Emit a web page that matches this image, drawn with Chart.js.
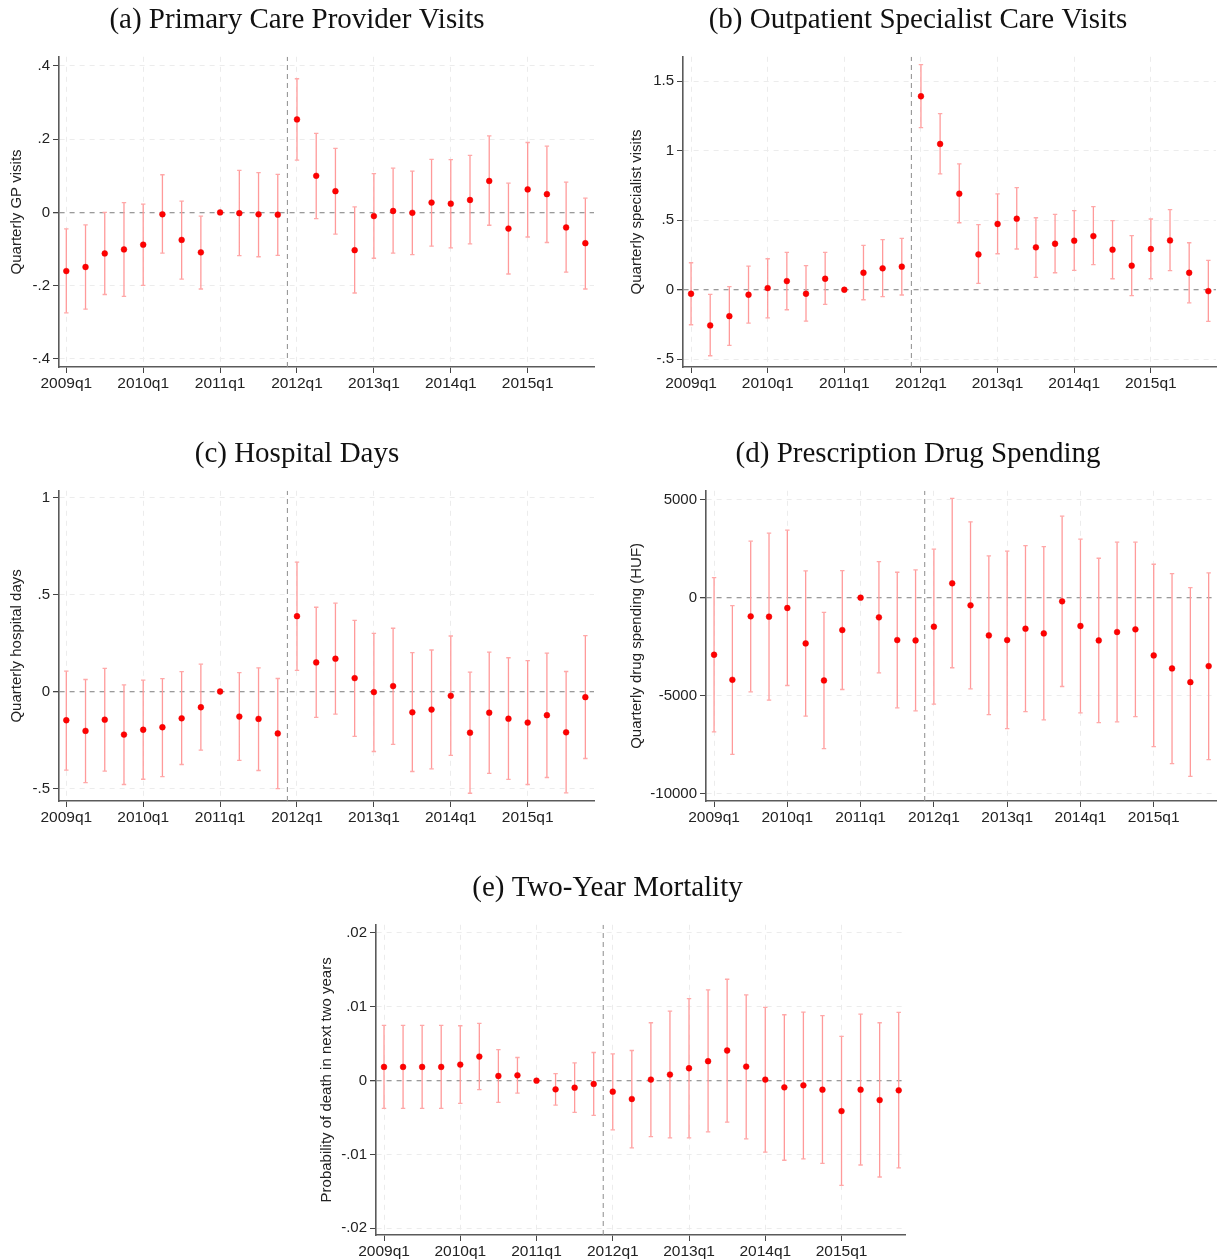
<!DOCTYPE html>
<html>
<head>
<meta charset="utf-8">
<script src="https://cdn.jsdelivr.net/npm/chart.js@4.4.0/dist/chart.umd.min.js"></script>
<style>
  body { margin: 0; background: #fff; width: 1225px; height: 1260px; position: relative; overflow: hidden; }
  .panel { position: absolute; }
</style>
</head>
<body>
<div class="panel" style="left:0px;top:0px;width:600px;height:400px"><canvas id="chartA"></canvas></div>
<div class="panel" style="left:620px;top:0px;width:605px;height:400px"><canvas id="chartB"></canvas></div>
<div class="panel" style="left:0px;top:434px;width:600px;height:400px"><canvas id="chartC"></canvas></div>
<div class="panel" style="left:620px;top:434px;width:605px;height:400px"><canvas id="chartD"></canvas></div>
<div class="panel" style="left:310px;top:868px;width:602px;height:400px"><canvas id="chartE"></canvas></div>
<script>
// quarters 2009q1 .. 2015q4, index 0..27
const quarters = [];
for (let y = 2009; y <= 2015; y++) for (let q = 1; q <= 4; q++) quarters.push(y + 'q' + q);
const xTickIdx = [0, 4, 8, 12, 16, 20, 24];
const reformAt = 11.5; // between 2011q4 and 2012q1

// (a) GP visits
const gpCoef = [-0.160, -0.149, -0.112, -0.101, -0.088, -0.005, -0.075, -0.109, 0, -0.002, -0.005, -0.006,
  0.254, 0.100, 0.058, -0.103, -0.010, 0.004, -0.001, 0.027, 0.024, 0.034, 0.086, -0.044, 0.063, 0.050, -0.041, -0.084];
const gpHi = [-0.045, -0.034, 0.000, 0.027, 0.023, 0.103, 0.031, -0.010, null, 0.115, 0.109, 0.104,
  0.365, 0.216, 0.175, 0.015, 0.106, 0.121, 0.113, 0.145, 0.144, 0.156, 0.209, 0.080, 0.191, 0.181, 0.083, 0.039];
const gpLo = [-0.274, -0.264, -0.224, -0.229, -0.199, -0.111, -0.182, -0.209, null, -0.118, -0.121, -0.117,
  0.143, -0.017, -0.059, -0.220, -0.125, -0.111, -0.115, -0.092, -0.097, -0.086, -0.035, -0.168, -0.067, -0.082, -0.163, -0.209];
const gpTicks = [-0.4, -0.2, 0, 0.2, 0.4];
const gpTickLabels = ['-.4', '-.2', '0', '.2', '.4'];

// (b) specialist visits
const specCoef = [-0.029, -0.257, -0.190, -0.036, 0.012, 0.062, -0.029, 0.079, 0, 0.122, 0.154, 0.166,
  1.392, 1.049, 0.691, 0.254, 0.473, 0.511, 0.305, 0.331, 0.353, 0.386, 0.288, 0.173, 0.293, 0.355, 0.122, -0.010];
const specHi = [0.194, -0.034, 0.022, 0.170, 0.223, 0.269, 0.173, 0.269, null, 0.319, 0.360, 0.370,
  1.620, 1.267, 0.905, 0.468, 0.689, 0.734, 0.518, 0.542, 0.569, 0.598, 0.497, 0.389, 0.509, 0.576, 0.338, 0.211];
const specLo = [-0.252, -0.475, -0.401, -0.240, -0.202, -0.144, -0.226, -0.106, null, -0.072, -0.050, -0.038,
  1.166, 0.833, 0.482, 0.046, 0.259, 0.293, 0.089, 0.122, 0.139, 0.180, 0.079, -0.043, 0.079, 0.137, -0.094, -0.228];
const specTicks = [-0.5, 0, 0.5, 1, 1.5];
const specTickLabels = ['-.5', '0', '.5', '1', '1.5'];

// (c) hospital days
const hospCoef = [-0.148, -0.203, -0.145, -0.222, -0.197, -0.184, -0.138, -0.081, 0, -0.129, -0.141, -0.216,
  0.388, 0.150, 0.169, 0.069, -0.003, 0.028, -0.107, -0.093, -0.022, -0.212, -0.109, -0.140, -0.160, -0.122, -0.210, -0.029];
const hospHi = [0.105, 0.062, 0.119, 0.034, 0.059, 0.066, 0.102, 0.141, null, 0.097, 0.122, 0.067,
  0.667, 0.434, 0.455, 0.367, 0.300, 0.326, 0.200, 0.214, 0.286, 0.100, 0.203, 0.174, 0.159, 0.198, 0.103, 0.288];
const hospLo = [-0.405, -0.469, -0.410, -0.479, -0.452, -0.438, -0.376, -0.302, null, -0.355, -0.407, -0.500,
  0.109, -0.133, -0.116, -0.231, -0.309, -0.272, -0.412, -0.398, -0.329, -0.524, -0.422, -0.453, -0.479, -0.443, -0.522, -0.345];
const hospTicks = [-0.5, 0, 0.5, 1];
const hospTickLabels = ['-.5', '0', '.5', '1'];

// (d) drug spending (HUF)
const drugCoef = [-2918, -4198, -956, -973, -529, -2338, -4232, -1655, 0, -1007, -2167, -2184,
  -1485, 734, -392, -1928, -2167, -1587, -1826, -188, -1450, -2184, -1757, -1621, -2952, -3617, -4317, -3498];
const drugHi = [1024, -410, 2884, 3293, 3447, 1365, -751, 1382, null, 1843, 1297, 1416,
  2474, 5067, 3873, 2133, 2372, 2662, 2611, 4163, 2986, 2014, 2833, 2833, 1706, 1229, 512, 1263];
const drugLo = [-6859, -8003, -4812, -5238, -4488, -6058, -7713, -4693, null, -3839, -5631, -5785,
  -5443, -3583, -4658, -5972, -6688, -5819, -6245, -4539, -5887, -6381, -6347, -6074, -7611, -8481, -9128, -8276];
const drugTicks = [-10000, -5000, 0, 5000];
const drugTickLabels = ['-10000', '-5000', '0', '5000'];

// (e) two-year mortality
const mortCoef = [0.00186, 0.00186, 0.00186, 0.00186, 0.00217, 0.00326, 0.00063, 0.00072, 0, -0.00118, -0.00095, -0.00045,
  -0.00149, -0.00249, 0.00014, 0.00082, 0.00168, 0.00263, 0.00408, 0.00190, 0.00014, -0.00091, -0.00063, -0.00122, -0.00412, -0.00122, -0.00263, -0.00131];
const mortHi = [0.00747, 0.00747, 0.00747, 0.00747, 0.00743, 0.00775, 0.00421, 0.00313, null, 0.00095, 0.00240, 0.00381,
  0.00362, 0.00408, 0.00784, 0.00942, 0.01110, 0.01228, 0.01373, 0.01160, 0.00992, 0.00892, 0.00929, 0.00879, 0.00598, 0.00901, 0.00784, 0.00924];
const mortLo = [-0.00376, -0.00376, -0.00376, -0.00376, -0.00308, -0.00122, -0.00294, -0.00168, null, -0.00331, -0.00430, -0.00471,
  -0.00666, -0.00911, -0.00757, -0.00775, -0.00775, -0.00693, -0.00562, -0.00788, -0.00969, -0.01078, -0.01060, -0.01119, -0.01418, -0.01142, -0.01305, -0.01182];
const mortTicks = [-0.02, -0.01, 0, 0.01, 0.02];
const mortTickLabels = ['-.02', '-.01', '0', '.01', '.02'];

const SANS = "'Liberation Sans', Arial, sans-serif";
const SERIF = "'Liberation Serif', 'Times New Roman', serif";

function errorBarPoints(lo, hi) {
  const pts = [];
  lo.forEach((l, i) => {
    if (l === null) return;
    pts.push({ x: i, y: l }, { x: i, y: hi[i] }, { x: i, y: null });
  });
  return pts;
}

function makePanel(id, p) {
  const ctx = document.getElementById(id).getContext('2d');
  new Chart(ctx, {
    type: 'scatter',
    data: {
      datasets: [
        {
          data: p.coef.map((v, i) => ({ x: i, y: v })),
          backgroundColor: '#ff0000',
          borderColor: '#e60000',
          borderWidth: 0.5,
          pointRadius: 2.9,
          order: 1
        },
        {
          type: 'line',
          data: errorBarPoints(p.lo, p.hi),
          borderColor: '#ff9a9a',
          borderWidth: 1.3,
          pointStyle: 'line',
          pointRadius: 2.2,
          pointBorderColor: '#ffa8a8',
          pointBorderWidth: 1.3,
          spanGaps: false,
          order: 2
        },
        {
          type: 'line',
          data: [{ x: reformAt, y: p.yMin }, { x: reformAt, y: p.yMax }],
          borderColor: '#8c8c8c',
          borderWidth: 1,
          borderDash: [5, 4],
          pointRadius: 0,
          order: 3
        }
      ]
    },
    options: {
      responsive: true,
      maintainAspectRatio: false,
      animation: false,
      events: [],
      layout: { padding: { left: 0, right: p.padRight, top: 0, bottom: 0 } },
      plugins: {
        legend: { display: false },
        tooltip: { enabled: false },
        title: {
          display: true,
          text: p.title,
          color: '#111',
          font: { family: SERIF, size: 29, weight: 'normal' },
          padding: { top: 3, bottom: 19 }
        }
      },
      scales: {
        x: {
          type: 'linear',
          min: p.xMin,
          max: p.xMax,
          afterBuildTicks: s => { s.ticks = xTickIdx.map(v => ({ value: v })); },
          afterFit: s => { s.height = 33; },
          ticks: {
            autoSkip: false, maxRotation: 0, padding: 1,
            color: '#222', font: { family: SANS, size: 15.5 },
            callback: v => quarters[v]
          },
          grid: { color: '#ececec', tickColor: '#444', tickLength: 6, tickBorderDash: [] },
          border: { display: true, color: '#5a5a5a', width: 1.6, dash: [5, 5] }
        },
        y: {
          min: p.yMin,
          max: p.yMax,
          afterBuildTicks: s => { s.ticks = p.yTicks.map(v => ({ value: v })); },
          afterFit: s => { s.width = p.yWidth; },
          ticks: {
            padding: 3, color: '#222', font: { family: SANS, size: 15 },
            callback: v => p.yTickLabels[p.yTicks.indexOf(v)]
          },
          title: {
            display: true, text: p.yTitle, color: '#222',
            font: { family: SANS, size: 15 }, padding: { top: 8, bottom: 0 }
          },
          grid: {
            color: c => (c.tick && c.tick.value === 0) ? '#9a9a9a' : '#ececec',
            lineWidth: c => (c.tick && c.tick.value === 0) ? 1.3 : 1,
            tickColor: '#444', tickLength: 6, tickBorderDash: []
          },
          border: { display: true, color: '#5a5a5a', width: 1.6, dash: [5, 5] }
        }
      }
    }
  });
}

makePanel('chartA', {
  title: '(a) Primary Care Provider Visits', yTitle: 'Quarterly GP visits',
  coef: gpCoef, lo: gpLo, hi: gpHi, yTicks: gpTicks, yTickLabels: gpTickLabels,
  yMin: -0.422, yMax: 0.425, xMin: -0.38, xMax: 27.45, yWidth: 59, padRight: 6
});
makePanel('chartB', {
  title: '(b) Outpatient Specialist Care Visits', yTitle: 'Quarterly specialist visits',
  coef: specCoef, lo: specLo, hi: specHi, yTicks: specTicks, yTickLabels: specTickLabels,
  yMin: -0.556, yMax: 1.676, xMin: -0.42, xMax: 27.4, yWidth: 63, padRight: 9
});
makePanel('chartC', {
  title: '(c) Hospital Days', yTitle: 'Quarterly hospital days',
  coef: hospCoef, lo: hospLo, hi: hospHi, yTicks: hospTicks, yTickLabels: hospTickLabels,
  yMin: -0.564, yMax: 1.034, xMin: -0.38, xMax: 27.45, yWidth: 59, padRight: 6
});
makePanel('chartD', {
  title: '(d) Prescription Drug Spending', yTitle: 'Quarterly drug spending (HUF)',
  coef: drugCoef, lo: drugLo, hi: drugHi, yTicks: drugTicks, yTickLabels: drugTickLabels,
  yMin: -10390, yMax: 5459, xMin: -0.44, xMax: 27.4, yWidth: 86, padRight: 9
});
makePanel('chartE', {
  title: '(e) Two-Year Mortality', yTitle: 'Probability of death in next two years',
  coef: mortCoef, lo: mortLo, hi: mortHi, yTicks: mortTicks, yTickLabels: mortTickLabels,
  yMin: -0.0209, yMax: 0.0211, xMin: -0.42, xMax: 27.33, yWidth: 66, padRight: 7
});
</script>
</body>
</html>
